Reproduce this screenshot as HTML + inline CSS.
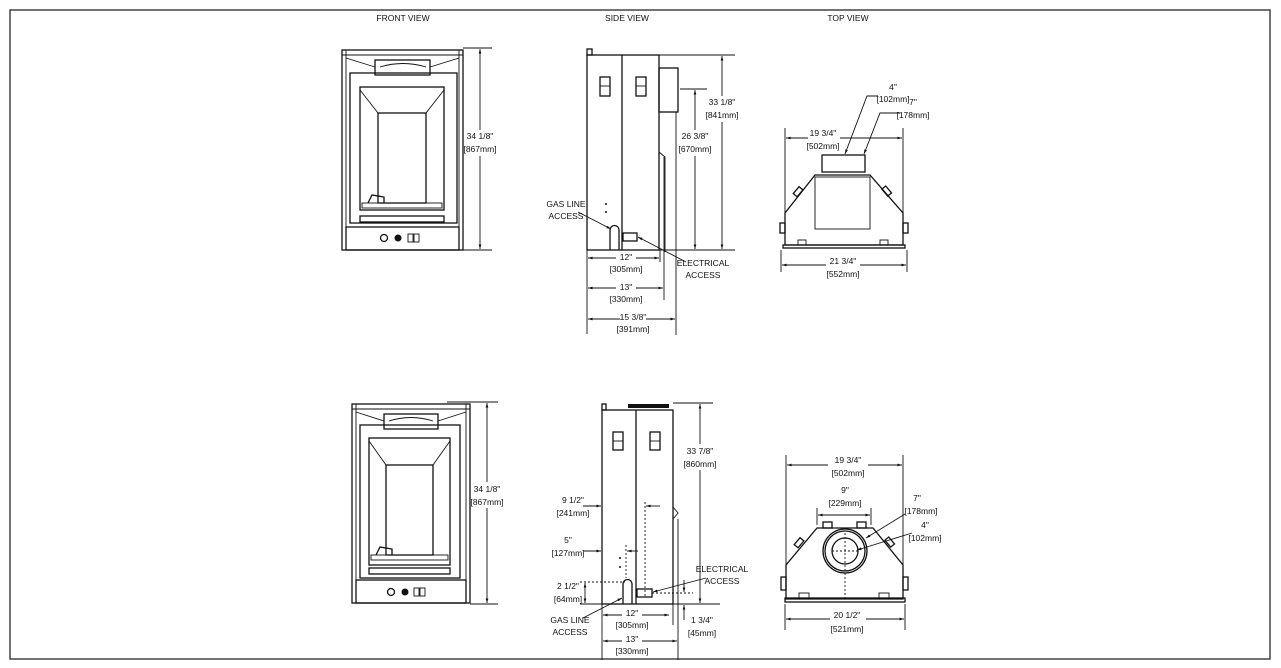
<!DOCTYPE html>
<html><head><meta charset="utf-8"><style>
html,body{margin:0;padding:0;background:#fff}
svg{display:block}
text{font-family:"Liberation Sans Narrow","Liberation Sans",sans-serif;font-size:8.5px;fill:#111;text-anchor:middle}
.l{stroke:#111;stroke-width:1.3;fill:none}
.t{stroke:#111;stroke-width:.9;fill:none}
.d{stroke:#111;stroke-width:.9;fill:none;stroke-dasharray:2,2}
</style></head><body>
<svg width="1281" height="668" viewBox="0 0 1281 668" xmlns="http://www.w3.org/2000/svg">
<defs>
<marker id="a" viewBox="0 0 10 10" refX="10" refY="5" markerWidth="7" markerHeight="5" orient="auto-start-reverse"><path d="M0,2L10,5L0,8z" fill="#111"/></marker>
</defs>
<rect x="10" y="10" width="1260" height="649" fill="none" stroke="#444" stroke-width="1.5"/>
<text x="403" y="21">FRONT VIEW</text>
<text x="627" y="21">SIDE VIEW</text>
<text x="848" y="21">TOP VIEW</text>

<!-- FRONT VIEW TOP -->
<g>
<rect class="l" x="342" y="50" width="121" height="200"/>
<line class="t" x1="346" y1="50" x2="346" y2="250"/><line class="t" x1="459" y1="50" x2="459" y2="250"/>
<line class="t" x1="342" y1="55" x2="463" y2="55"/>
<path class="t" d="M346 58L375 67M459 58L430 67"/>
<rect class="l" x="375" y="60" width="55" height="15"/>
<path class="t" d="M380 67Q403 60 426 67"/>
<rect class="l" x="350" y="73" width="107" height="150"/>
<rect class="l" x="360" y="87" width="84" height="123"/>
<rect class="l" x="378" y="113" width="48" height="90"/>
<path class="t" d="M360 90L378 113M444 90L426 113"/>
<rect class="t" x="362" y="203" width="80" height="5"/>
<path class="l" d="M368 203l4-8 12 2v6"/>
<rect class="l" x="360" y="216" width="84" height="6"/>
<rect class="l" x="346" y="227" width="113" height="23"/>
<circle class="l" cx="384" cy="238" r="3.5"/><circle cx="398" cy="238" r="3.5" fill="#111"/>
<rect class="t" x="408" y="234" width="5" height="8"/><rect class="t" x="414" y="234" width="5" height="8"/>
<line class="t" x1="463" y1="48" x2="492" y2="48"/><line class="t" x1="463" y1="250" x2="492" y2="250"/>
<line class="t" x1="480" y1="49" x2="480" y2="130" marker-start="url(#a)"/>
<line class="t" x1="480" y1="156" x2="480" y2="249" marker-end="url(#a)"/>
<text x="480" y="139">34 1/8"</text><text x="480" y="152">[867mm]</text>
</g>

<!-- SIDE VIEW TOP -->
<g>
<rect class="l" x="587" y="55" width="72" height="195"/>
<rect class="l" x="587" y="49" width="5" height="6"/>
<line class="l" x1="622" y1="55" x2="622" y2="250"/>
<rect class="l" x="659" y="68" width="19" height="44"/>
<rect class="l" x="600" y="77" width="10" height="19"/><line class="t" x1="600" y1="86" x2="610" y2="86"/>
<rect class="l" x="636" y="77" width="10" height="19"/><line class="t" x1="636" y1="86" x2="646" y2="86"/>
<path class="t" d="M659 152l6 5v95"/>
<line class="t" x1="664" y1="157" x2="664" y2="300"/>
<line class="t" x1="676" y1="112" x2="676" y2="335"/>
<path class="l" d="M610 250v-20a4.5 4.5 0 0 1 9 0v20"/>
<rect class="l" x="623" y="233" width="14" height="8"/>
<circle cx="606" cy="204" r="1" fill="#111"/><circle cx="606" cy="212" r="1" fill="#111"/>
<line class="t" x1="659" y1="55" x2="735" y2="55"/><line class="t" x1="659" y1="250" x2="735" y2="250"/>
<line class="t" x1="680" y1="89" x2="707" y2="89"/>
<line class="t" x1="722" y1="56" x2="722" y2="96" marker-start="url(#a)"/>
<line class="t" x1="722" y1="122" x2="722" y2="249" marker-end="url(#a)"/>
<text x="722" y="105">33 1/8"</text><text x="722" y="118">[841mm]</text>
<line class="t" x1="695" y1="90" x2="695" y2="130" marker-start="url(#a)"/>
<line class="t" x1="695" y1="156" x2="695" y2="249" marker-end="url(#a)"/>
<text x="695" y="139">26 3/8"</text><text x="695" y="152">[670mm]</text>
<text x="566" y="207">GAS LINE</text><text x="566" y="219">ACCESS</text>
<line class="t" x1="578" y1="212" x2="611" y2="229" marker-end="url(#a)"/>
<text x="703" y="266">ELECTRICAL</text><text x="703" y="278">ACCESS</text>
<line class="t" x1="686" y1="262" x2="638" y2="237" marker-end="url(#a)"/>
<line class="t" x1="587" y1="250" x2="587" y2="334"/>
<line class="t" x1="660" y1="250" x2="660" y2="262"/>
<line class="t" x1="588" y1="258" x2="616" y2="258" marker-start="url(#a)"/><line class="t" x1="636" y1="258" x2="659" y2="258" marker-end="url(#a)"/>
<text x="626" y="260">12"</text><text x="626" y="272">[305mm]</text>
<line class="t" x1="588" y1="288" x2="616" y2="288" marker-start="url(#a)"/><line class="t" x1="636" y1="288" x2="663" y2="288" marker-end="url(#a)"/>
<text x="626" y="290">13"</text><text x="626" y="302">[330mm]</text>
<line class="t" x1="588" y1="319" x2="620" y2="319" marker-start="url(#a)"/><line class="t" x1="646" y1="319" x2="675" y2="319" marker-end="url(#a)"/>
<text x="633" y="320">15 3/8"</text><text x="633" y="332">[391mm]</text>
</g>

<!-- TOP VIEW TOP -->
<g>
<rect class="l" x="822" y="155" width="43" height="17"/>
<path class="l" d="M815 175h55l33 38v32h-118v-32z"/>
<rect class="t" x="815" y="177" width="55" height="52"/>
<rect class="l" x="783" y="245" width="122" height="3"/>
<rect class="l" x="780" y="223" width="5" height="10"/><rect class="l" x="903" y="223" width="5" height="10"/>
<rect class="l" x="796" y="187" width="5" height="9" transform="rotate(40 798 191)"/>
<rect class="l" x="884" y="187" width="5" height="9" transform="rotate(-40 886 191)"/>
<rect class="t" x="798" y="240" width="8" height="5"/><rect class="t" x="880" y="240" width="8" height="5"/>
<line class="t" x1="785" y1="128" x2="785" y2="213"/><line class="t" x1="903" y1="128" x2="903" y2="213"/>
<line class="t" x1="786" y1="138" x2="808" y2="138" marker-start="url(#a)"/><line class="t" x1="840" y1="138" x2="902" y2="138" marker-end="url(#a)"/>
<text x="823" y="136">19 3/4"</text><text x="823" y="149">[502mm]</text>
<line class="t" x1="781" y1="250" x2="781" y2="272"/><line class="t" x1="907" y1="250" x2="907" y2="272"/>
<line class="t" x1="782" y1="265" x2="826" y2="265" marker-start="url(#a)"/><line class="t" x1="860" y1="265" x2="906" y2="265" marker-end="url(#a)"/>
<text x="843" y="264">21 3/4"</text><text x="843" y="277">[552mm]</text>
<text x="893" y="90">4"</text><text x="893" y="102">[102mm]</text>
<text x="913" y="105">7"</text><text x="913" y="118">[178mm]</text>
<path class="t" d="M878 96h-11l-22 58" marker-end="url(#a)"/>
<path class="t" d="M900 113h-20l-16 41" marker-end="url(#a)"/>
</g>

<!-- FRONT VIEW BOTTOM -->
<g>
<rect class="l" x="352" y="404" width="118" height="199"/>
<line class="t" x1="356" y1="404" x2="356" y2="603"/><line class="t" x1="466" y1="404" x2="466" y2="603"/>
<line class="t" x1="352" y1="409" x2="470" y2="409"/>
<path class="t" d="M356 412L384 421M466 412L438 421"/>
<rect class="l" x="384" y="414" width="54" height="15"/>
<path class="t" d="M389 421Q411 414 433 421"/>
<rect class="l" x="360" y="425" width="100" height="153"/>
<rect class="l" x="369" y="438" width="81" height="127"/>
<rect class="l" x="386" y="465" width="47" height="90"/>
<path class="t" d="M369 441L386 465M450 441L433 465"/>
<rect class="t" x="371" y="555" width="77" height="5"/>
<path class="l" d="M376 555l4-8 12 2v6"/>
<rect class="l" x="369" y="568" width="81" height="6"/>
<rect class="l" x="356" y="580" width="110" height="23"/>
<circle class="l" cx="391" cy="592" r="3.5"/><circle cx="405" cy="592" r="3.5" fill="#111"/>
<rect class="t" x="414" y="588" width="5" height="8"/><rect class="t" x="420" y="588" width="5" height="8"/>
<line class="t" x1="447" y1="402" x2="498" y2="402"/><line class="t" x1="470" y1="604" x2="498" y2="604"/>
<line class="t" x1="487" y1="403" x2="487" y2="482" marker-start="url(#a)"/>
<line class="t" x1="487" y1="508" x2="487" y2="603" marker-end="url(#a)"/>
<text x="487" y="492">34 1/8"</text><text x="487" y="505">[867mm]</text>
</g>

<!-- SIDE VIEW BOTTOM -->
<g>
<rect class="l" x="602" y="410" width="71" height="194"/>
<rect class="l" x="602" y="404" width="4" height="6"/>
<rect x="628" y="404" width="41" height="4" fill="#111"/>
<line class="l" x1="636" y1="410" x2="636" y2="604"/>
<rect class="l" x="613" y="432" width="10" height="18"/><line class="t" x1="613" y1="441" x2="623" y2="441"/>
<rect class="l" x="650" y="432" width="10" height="18"/><line class="t" x1="650" y1="441" x2="660" y2="441"/>
<path class="t" d="M673 507l5 6-5 6"/>
<line class="t" x1="678" y1="519" x2="678" y2="660"/>
<line class="t" x1="602" y1="604" x2="602" y2="660"/>
<line class="t" x1="673" y1="604" x2="673" y2="625"/>
<path class="l" d="M623 604v-20a4.5 4.5 0 0 1 9 0v20"/>
<rect class="l" x="637" y="589" width="15" height="8"/>
<circle cx="620" cy="558" r="1" fill="#111"/><circle cx="620" cy="567" r="1" fill="#111"/>
<line class="t" x1="673" y1="403" x2="713" y2="403"/><line class="t" x1="673" y1="604" x2="720" y2="604"/>
<line class="t" x1="700" y1="404" x2="700" y2="444" marker-start="url(#a)"/>
<line class="t" x1="700" y1="470" x2="700" y2="603" marker-end="url(#a)"/>
<text x="700" y="454">33 7/8"</text><text x="700" y="467">[860mm]</text>
<line class="d" x1="645" y1="502" x2="645" y2="597"/>
<line class="t" x1="583" y1="506" x2="601" y2="506" marker-end="url(#a)"/>
<line class="t" x1="660" y1="506" x2="646" y2="506" marker-end="url(#a)"/>
<text x="573" y="503">9 1/2"</text><text x="573" y="516">[241mm]</text>
<line class="d" x1="626" y1="545" x2="626" y2="578"/>
<line class="t" x1="584" y1="551" x2="601" y2="551" marker-end="url(#a)"/>
<line class="t" x1="638" y1="551" x2="627" y2="551" marker-end="url(#a)"/>
<text x="568" y="543">5"</text><text x="568" y="556">[127mm]</text>
<line class="d" x1="580" y1="582" x2="625" y2="582"/>
<line class="t" x1="585" y1="583" x2="585" y2="603" marker-start="url(#a)" marker-end="url(#a)"/>
<line class="t" x1="580" y1="604" x2="602" y2="604"/>
<text x="568" y="589">2 1/2"</text><text x="568" y="602">[64mm]</text>
<line class="d" x1="652" y1="593" x2="693" y2="593"/>
<line class="t" x1="684" y1="580" x2="684" y2="592" marker-end="url(#a)"/>
<line class="t" x1="684" y1="620" x2="684" y2="605" marker-end="url(#a)"/>
<text x="722" y="572">ELECTRICAL</text><text x="722" y="584">ACCESS</text>
<line class="t" x1="706" y1="578" x2="653" y2="592" marker-end="url(#a)"/>
<text x="702" y="623">1 3/4"</text><text x="702" y="636">[45mm]</text>
<text x="570" y="623">GAS LINE</text><text x="570" y="635">ACCESS</text>
<line class="t" x1="583" y1="618" x2="622" y2="598" marker-end="url(#a)"/>
<line class="t" x1="603" y1="615" x2="622" y2="615" marker-start="url(#a)"/><line class="t" x1="642" y1="615" x2="669" y2="615" marker-end="url(#a)"/>
<text x="632" y="616">12"</text><text x="632" y="628">[305mm]</text>
<line class="t" x1="603" y1="641" x2="622" y2="641" marker-start="url(#a)"/><line class="t" x1="642" y1="641" x2="677" y2="641" marker-end="url(#a)"/>
<text x="632" y="642">13"</text><text x="632" y="654">[330mm]</text>
</g>

<!-- TOP VIEW BOTTOM -->
<g>
<path class="l" d="M817 528h56l30 37v34h-117v-34z"/>
<rect class="l" x="785" y="598" width="120" height="4"/>
<rect class="l" x="823" y="522" width="9" height="6"/><rect class="l" x="857" y="522" width="9" height="6"/>
<rect class="l" x="781" y="577" width="5" height="13"/><rect class="l" x="903" y="577" width="5" height="13"/>
<rect class="l" x="797" y="538" width="5" height="9" transform="rotate(40 799 542)"/>
<rect class="l" x="887" y="538" width="5" height="9" transform="rotate(-40 889 542)"/>
<rect class="t" x="799" y="593" width="10" height="5"/><rect class="t" x="879" y="593" width="10" height="5"/>
<circle class="l" cx="845" cy="551" r="22"/><circle class="l" cx="845" cy="551" r="20"/>
<circle class="l" cx="845" cy="551" r="13"/>
<line class="d" x1="845" y1="533" x2="845" y2="598"/><line class="d" x1="832" y1="551" x2="858" y2="551"/>
<line class="t" x1="786" y1="455" x2="786" y2="565"/><line class="t" x1="903" y1="455" x2="903" y2="565"/>
<line class="t" x1="787" y1="465" x2="828" y2="465" marker-start="url(#a)"/><line class="t" x1="868" y1="465" x2="902" y2="465" marker-end="url(#a)"/>
<text x="848" y="463">19 3/4"</text><text x="848" y="476">[502mm]</text>
<line class="t" x1="817" y1="508" x2="817" y2="525"/><line class="t" x1="871" y1="508" x2="871" y2="525"/>
<line class="t" x1="818" y1="515" x2="870" y2="515" marker-start="url(#a)" marker-end="url(#a)"/>
<text x="845" y="493">9"</text><text x="845" y="506">[229mm]</text>
<text x="917" y="501">7"</text><text x="921" y="514">[178mm]</text>
<text x="925" y="528">4"</text><text x="925" y="541">[102mm]</text>
<line class="t" x1="905" y1="514" x2="866" y2="538" marker-end="url(#a)"/>
<line class="t" x1="912" y1="533" x2="857" y2="550" marker-end="url(#a)"/>
<line class="t" x1="785" y1="604" x2="785" y2="630"/><line class="t" x1="905" y1="604" x2="905" y2="630"/>
<line class="t" x1="786" y1="619" x2="830" y2="619" marker-start="url(#a)"/><line class="t" x1="866" y1="619" x2="904" y2="619" marker-end="url(#a)"/>
<text x="847" y="618">20 1/2"</text><text x="847" y="632">[521mm]</text>
</g>
</svg>
</body></html>
